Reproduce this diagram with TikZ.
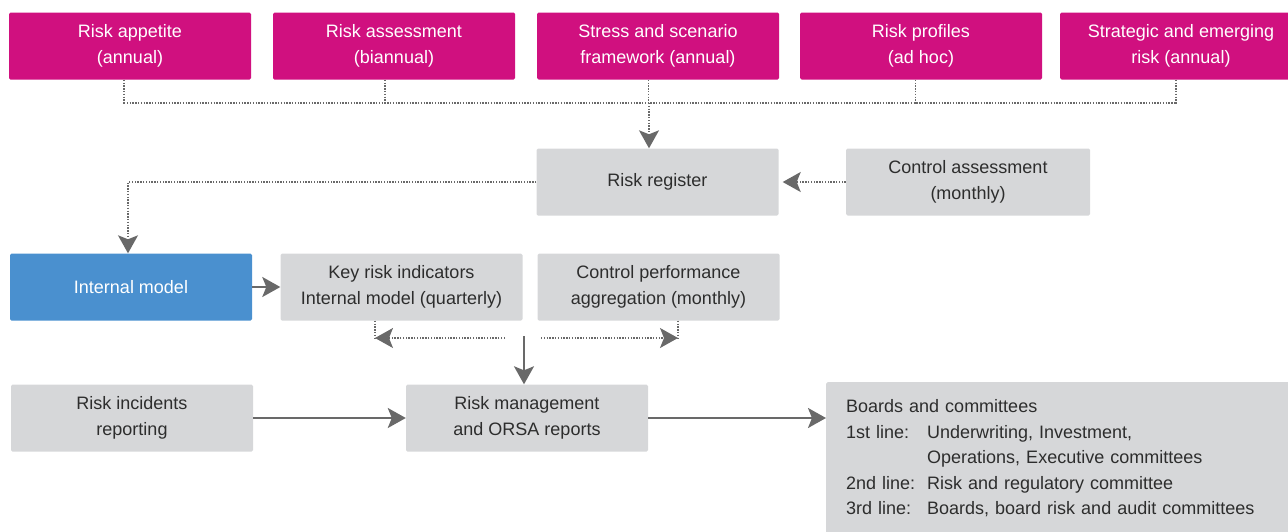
\documentclass[tikz,border=0pt]{standalone}
\usepackage{fontspec}
\setmainfont{Liberation Sans}
\usetikzlibrary{arrows.meta}
\definecolor{riskpink}{RGB}{208,16,127}
\definecolor{riskblue}{RGB}{74,144,207}
\definecolor{riskgrey}{RGB}{214,215,217}
\definecolor{linegrey}{RGB}{105,105,105}
\definecolor{textgrey}{RGB}{45,45,45}
\tikzset{
  box/.style={rectangle,rounded corners=1.5pt,minimum width=242pt,minimum height=67pt,align=center,inner sep=4pt},
  pinkbox/.style={box,fill=riskpink,text=white},
  greybox/.style={box,fill=riskgrey,text=textgrey},
  bluebox/.style={box,fill=riskblue,text=white},
  dotline/.style={draw=linegrey,line width=1.4pt,dash pattern=on 1.4pt off 1.4pt},
  solidline/.style={draw=linegrey,line width=2pt},
}
\begin{document}
\begin{tikzpicture}[x=1pt,y=-1pt,font=\fontsize{18}{26}\selectfont,
  >={Stealth[length=18pt,width=20pt,inset=4pt]}]
	\useasboundingbox (0,0) rectangle (1288,531);
	% top row
	\node[pinkbox] (app) at (130,46) {Risk appetite\\(annual)};
	\node[pinkbox] (ass) at (394,46) {Risk assessment\\(biannual)};
	\node[pinkbox] (str) at (658,46) {Stress and scenario\\framework (annual)};
	\node[pinkbox] (prof) at (921,46) {Risk profiles\\(ad hoc)};
	\node[pinkbox] (strat) at (1181,46) {Strategic and emerging\\risk (annual)};
	% register row
	\node[greybox] (reg) at (657.5,182) {Risk register};
	\node[greybox,minimum width=244pt] (ctl) at (968,182) {Control assessment\\(monthly)};
	% model row
	\node[bluebox] (im) at (131,287) {Internal model};
	\node[greybox] (kri) at (401.5,287) {Key risk indicators\\Internal model (quarterly)};
	\node[greybox] (cpa) at (658.5,287) {Control performance\\aggregation (monthly)};
	% reporting row
	\node[greybox] (inc) at (132,418) {Risk incidents\\reporting};
	\node[greybox] (rm) at (527,418) {Risk management\\and ORSA reports};
	\node[greybox,anchor=north west,minimum width=480pt,minimum height=152pt,text width=440pt,
	  align=left,inner xsep=20pt,inner ysep=12pt,font=\fontsize{18}{25.5}\selectfont] (brd) at (826,382)
	  {Boards and committees\\
	   \makebox[81pt][l]{1st line:}Underwriting, Investment,\\
	   \hspace*{81pt}Operations, Executive committees\\
	   \makebox[81pt][l]{2nd line:}Risk and regulatory committee\\
	   \makebox[81pt][l]{3rd line:}Boards, board risk and audit committees};
	% dotted bus under the top row
	\coordinate (busA) at (124,103);
	\coordinate (busB) at (1176,103);
	\foreach \src/\dx in {app/-6,ass/-9,str/-9.5,prof/-5.5,strat/-5}
		\draw[dotline] ([xshift=\dx pt]\src.south) -- ++(0,24);
	\draw[dotline] (busA) -- (busB);
	\coordinate (drop) at (649,103);
	\draw[dotline,->] (drop) -- (drop |- reg.north);
	\draw[dotline,->,shorten >=4pt] (ctl.west) -- (reg.east);
	\draw[dotline,->] (reg.west) -| ([xshift=-3pt]im.north);
	\draw[solidline,->] (im.east) -- (kri.west);
	% split below the indicators
	\coordinate (kriL) at (375,338);
	\coordinate (cpaR) at (678,338);
	\coordinate (split) at (524,336);
	\draw[dotline] (kriL |- kri.south) -- (kriL);
	\draw[dotline,->] (505,338) -- (kriL);
	\draw[dotline] (cpaR |- cpa.south) -- (cpaR);
	\draw[dotline,->] (541,338) -- (cpaR);
	\draw[solidline,->] (split) -- (split |- rm.north);
	% reporting
	\draw[solidline,->] (inc.east) -- (rm.west);
	\draw[solidline,->] (rm.east) -- (rm.east -| brd.west);
\end{tikzpicture}
\end{document}
